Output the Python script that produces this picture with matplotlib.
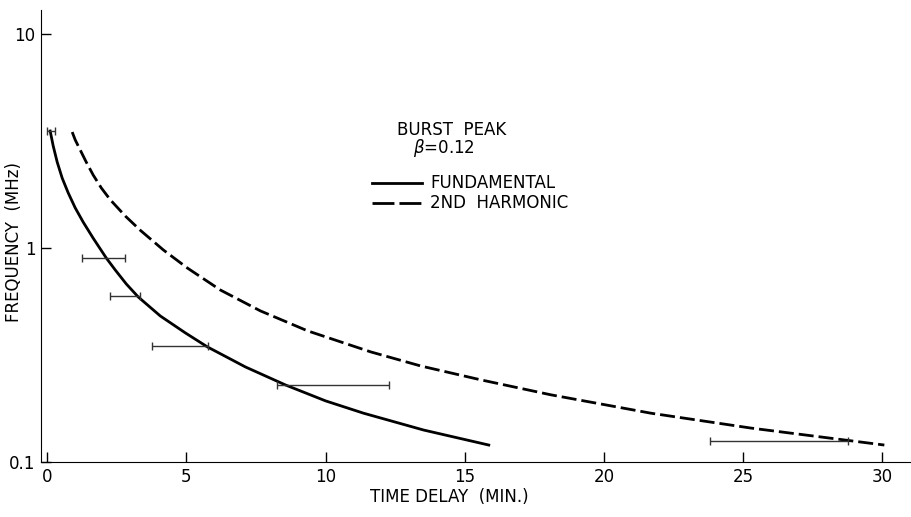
import numpy as np
import matplotlib.pyplot as plt

# Fundamental curve (time delay in min, frequency in MHz)
fund_t = [0.108, 0.216, 0.360, 0.540, 0.755, 1.007, 1.295, 1.655, 2.122,
          2.446, 2.842, 3.273, 4.065, 4.964, 5.755, 7.122, 8.561, 10.0, 11.367, 13.525, 15.863]
fund_f = [3.52, 3.00, 2.52, 2.12, 1.81, 1.54, 1.32, 1.11, 0.898,
          0.789, 0.679, 0.590, 0.481, 0.401, 0.345, 0.278, 0.229, 0.193, 0.169, 0.141, 0.120]

# 2nd harmonic curve
harm_t = [0.899, 1.007, 1.187, 1.403, 1.655, 1.942, 2.266, 2.806, 3.345, 4.173, 5.036,
          6.223, 7.662, 9.353, 11.619, 13.417, 15.576, 18.094, 21.691, 25.288, 30.072]
harm_f = [3.48, 3.20, 2.87, 2.52, 2.19, 1.91, 1.68, 1.41, 1.21, 0.979, 0.806,
          0.636, 0.508, 0.410, 0.327, 0.281, 0.242, 0.206, 0.169, 0.144, 0.120]

# observed time ranges (horizontal bars)
obs_f = [3.52, 0.90, 0.597, 0.348, 0.229, 0.125]
obs_tmin = [0.0, 1.26, 2.27, 3.78, 8.27, 23.81]
obs_tmax = [0.29, 2.81, 3.35, 5.76, 12.27, 28.78]

xticks = [0, 5, 10, 15, 20, 25, 30]
yticks = [0.1, 1, 10]
ytick_labels = ['0.1', '1', '10']

fig = plt.figure(figsize=(9.12, 5.17), dpi=100)
ax = fig.add_axes([0.045, 0.1064, 0.953, 0.8743])

ax.plot(fund_t, fund_f, color='black', lw=2)
ax.plot(harm_t, harm_f, color='black', lw=2, linestyle=(0, (5.4, 1.8)))

lo = np.array(obs_tmin)
hi = np.array(obs_tmax)
ax.errorbar((lo + hi) / 2, obs_f, xerr=(hi - lo) / 2, fmt='none',
            ecolor='0.2', elinewidth=1, capsize=2.6, capthick=1)

ax.set_yscale('log')
ax.set_xlim(-0.22, 31.0)
ax.set_ylim(0.1, 12.94)
ax.set_xticks(xticks)
ax.set_yticks(yticks)
ax.set_yticklabels(ytick_labels)
ax.minorticks_off()
ax.tick_params(direction='in', length=7, width=1, labelsize=12, pad=4)
for s in ['top', 'right']:
    ax.spines[s].set_visible(False)

ax.set_xlabel('TIME DELAY  (MIN.)', fontsize=12)
ax.xaxis.set_label_coords(0.47, -0.058)
ax.set_ylabel('FREQUENCY  (MHz)', fontsize=12)
ax.yaxis.set_label_coords(-0.021, 0.487)

# annotations
ax.text(0.4097, 0.7345, 'BURST  PEAK', transform=ax.transAxes, fontsize=12,
        ha='left', va='center')
ax.text(0.428, 0.6947, r'$\beta$=0.12', transform=ax.transAxes, fontsize=12,
        ha='left', va='center')

ax.plot([0.3809, 0.4384], [0.6173, 0.6173], transform=ax.transAxes, color='black', lw=2)
ax.plot([0.3809, 0.4384], [0.5730, 0.5730], transform=ax.transAxes, color='black', lw=2,
        linestyle=(0, (7.9, 1.8)))
ax.text(0.4476, 0.6173, 'FUNDAMENTAL', transform=ax.transAxes, fontsize=12, va='center')
ax.text(0.4476, 0.5730, '2ND  HARMONIC', transform=ax.transAxes, fontsize=12, va='center')

fig.savefig('out.png', dpi=100)
